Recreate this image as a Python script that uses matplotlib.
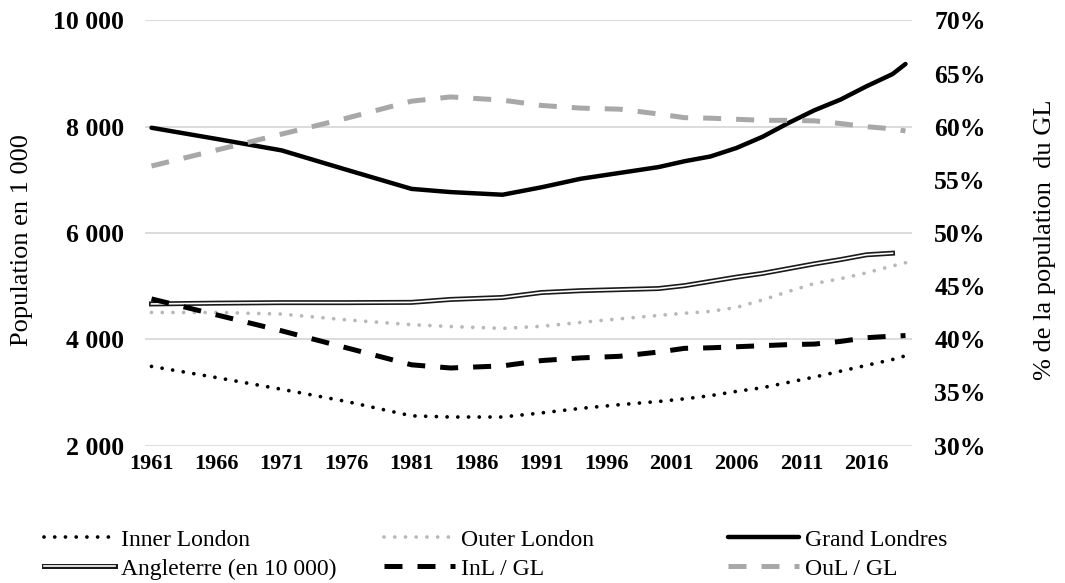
import numpy as np
import matplotlib
matplotlib.use("Agg")
import matplotlib.pyplot as plt
from matplotlib.ticker import FuncFormatter

plt.rcParams['font.family'] = ['Liberation Serif', 'DejaVu Serif']

# Data
years = [1961, 1966, 1971, 1976, 1981, 1984, 1988, 1991, 1994, 1997, 2000,
         2002, 2004, 2006, 2008, 2010, 2012, 2014, 2016, 2018, 2019]
inner_london = [3490, 3280, 3060, 2830, 2560, 2538, 2538, 2615, 2700, 2770, 2830,
                2880, 2940, 3020, 3090, 3190, 3290, 3400, 3510, 3620, 3690]
outer_london = [4505, 4505, 4475, 4365, 4275, 4240, 4205, 4245, 4318, 4385, 4450,
                4490, 4525, 4600, 4740, 4900, 5050, 5140, 5250, 5380, 5440]
grand_londres = [7980, 7770, 7555, 7190, 6830, 6770, 6720, 6860, 7020, 7130, 7240,
                 7350, 7440, 7600, 7810, 8070, 8310, 8510, 8760, 8990, 9180]
angleterre = [4665, 4680, 4690, 4690, 4695, 4750, 4787, 4880, 4915, 4935, 4955,
              5010, 5090, 5170, 5240, 5330, 5420, 5500, 5590, 5620, np.nan]
inl_gl = [43.8, 42.3, 40.8, 39.2, 37.6, 37.3, 37.5, 38.0, 38.25, 38.4, 38.8,
          39.15, 39.2, 39.3, 39.4, 39.5, 39.55, 39.8, 40.15, 40.3, 40.35]
oul_gl = [56.3, 57.8, 59.3, 60.8, 62.4, 62.8, 62.5, 62.0, 61.75, 61.65, 61.2,
          60.85, 60.8, 60.7, 60.6, 60.6, 60.55, 60.3, 60.0, 59.8, 59.6]
tick_years = [1961, 1966, 1971, 1976, 1981, 1986, 1991, 1996, 2001, 2006, 2011, 2016]

W, H = 1065, 583
fig = plt.figure(figsize=(W / 100, H / 100), dpi=100)
left, right, top, bottom = 145, 912, 20.4, 445.6
ax = fig.add_axes([left / W, 1 - bottom / H, (right - left) / W, (bottom - top) / H])
ax2 = ax.twinx()

# primary axis series
l_inner, = ax.plot(years, inner_london, color='black', lw=2.7,
                   linestyle=(0, (0.01, 2.85)), dash_capstyle='round')
l_outer, = ax.plot(years, outer_london, color='#b8b8b8', lw=2.7,
                   linestyle=(0, (0.01, 2.85)), dash_capstyle='round')
l_gl, = ax.plot(years, grand_londres, color='black', lw=3.2, solid_capstyle='round')
l_ang_out, = ax.plot(years, angleterre, color='#1a1a1a', lw=3.6)
l_ang_in, = ax.plot(years, angleterre, color='white', lw=1.2)

# secondary axis series
l_inl, = ax2.plot(years, inl_gl, color='black', lw=3.6, linestyle=(0, (3.6, 3.0)))
l_oul, = ax2.plot(years, oul_gl, color='#a8a8a8', lw=3.6, linestyle=(0, (3.6, 3.0)))

ax.set_xlim(1960.5, 2019.5)
ax.set_ylim(2000, 10000)
ax2.set_ylim(30, 70)
ax.set_yticks(range(2000, 10001, 2000))
ax2.set_yticks(range(30, 71, 5))
ax.set_xticks(tick_years)

ax.yaxis.set_major_formatter(FuncFormatter(lambda v, p: f"{int(v):,}".replace(',', ' ')))
ax2.yaxis.set_major_formatter(FuncFormatter(lambda v, p: f"{int(v)}%"))

ax.grid(axis='y', color='#d9d9d9', lw=1.3)
ax.set_axisbelow(True)
for a in (ax, ax2):
    for s in a.spines.values():
        s.set_visible(False)
    a.tick_params(length=0)
ax.tick_params(axis='y', pad=15, labelsize=18.5)
ax.tick_params(axis='x', pad=6, labelsize=16)
ax2.tick_params(axis='y', pad=16, labelsize=18.5)
for lab in ax.get_xticklabels() + ax.get_yticklabels() + ax2.get_yticklabels():
    lab.set_fontweight('bold')

fig.text(22 / W, 1 - 240 / H, 'Population en 1 000', rotation=90,
         ha='center', va='center', fontsize=19)
fig.text(1045 / W, 1 - 240 / H, '% de la population  du GL', rotation=90,
         ha='center', va='center', fontsize=19)

# legend, three columns placed like the original
cols = [([l_inner, (l_ang_out, l_ang_in)], ['Inner London', 'Angleterre (en 10 000)'], 44),
        ([l_outer, l_inl], ['Outer London', 'InL / GL'], 384),
        ([l_gl, l_oul], ['Grand Londres', 'OuL / GL'], 728)]
for handles, labels, x0 in cols:
    fig.legend(handles, labels, loc='upper left', bbox_to_anchor=(x0 / W, 1 - 529 / H),
               frameon=False, fontsize=17, handlelength=3.0, handletextpad=0.25,
               borderpad=0, borderaxespad=0, labelspacing=0.32)

fig.savefig('out.png', dpi=100)
